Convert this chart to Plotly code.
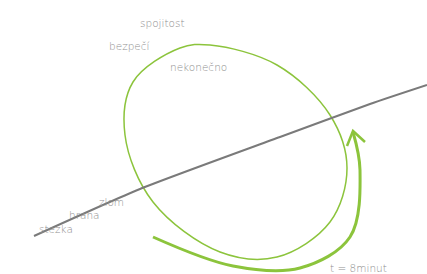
import plotly.graph_objects as go

# Diagram data (coordinates in the diagram's own units, y grows downward)
path_x = [34, 140, 280, 370, 427]
path_y = [236, 189, 137, 104, 85]

loop_x = [210, 277, 330, 347, 330, 277, 220, 153, 125, 133, 180, 210]
loop_y = [45, 65, 115, 168, 222, 257, 252, 202, 135, 82, 48, 45]

arrow_x = [153, 233, 300, 350, 360, 353]
arrow_y = [237, 266, 268, 237, 170, 132]

head_x = [347, 353, 365]
head_y = [146, 131, 142]

labels = ["spojitost", "bezpečí", "nekonečno", "zlom", "hrana", "stezka", "t = 8minut"]
label_x = [138, 107, 168, 97, 67, 37, 328]
label_y = [23, 46, 67, 202, 215, 229, 268]

GREEN = "#8cc43c"
GRAY = "#7a7a7a"
TEXT = "#8f8f8f"

fig = go.Figure()
fig.add_trace(go.Scatter(x=loop_x, y=loop_y, mode="lines",
                         line=dict(color=GREEN, width=1.5, shape="spline", smoothing=1.0),
                         hoverinfo="skip", showlegend=False))
fig.add_trace(go.Scatter(x=path_x, y=path_y, mode="lines",
                         line=dict(color=GRAY, width=2, shape="spline", smoothing=0.6),
                         hoverinfo="skip", showlegend=False))
fig.add_trace(go.Scatter(x=arrow_x, y=arrow_y, mode="lines",
                         line=dict(color=GREEN, width=3, shape="spline", smoothing=1.0),
                         hoverinfo="skip", showlegend=False))
fig.add_trace(go.Scatter(x=head_x, y=head_y, mode="lines",
                         line=dict(color=GREEN, width=2.5),
                         hoverinfo="skip", showlegend=False))

for t, x, y in zip(labels, label_x, label_y):
    fig.add_annotation(x=x, y=y, text=t, showarrow=False, xanchor="left", yanchor="middle",
                       font=dict(family="DejaVu Sans", size=10.5, color=TEXT, weight=300))

fig.update_layout(
    width=427, height=274,
    margin=dict(l=0, r=0, t=0, b=0),
    paper_bgcolor="white", plot_bgcolor="white",
    xaxis=dict(range=[0, 427], visible=False, fixedrange=True),
    yaxis=dict(range=[274, 0], visible=False, fixedrange=True),
)
fig.write_html("out.html", config={"displayModeBar": False},
               post_script="document.body.style.margin='0px';")
